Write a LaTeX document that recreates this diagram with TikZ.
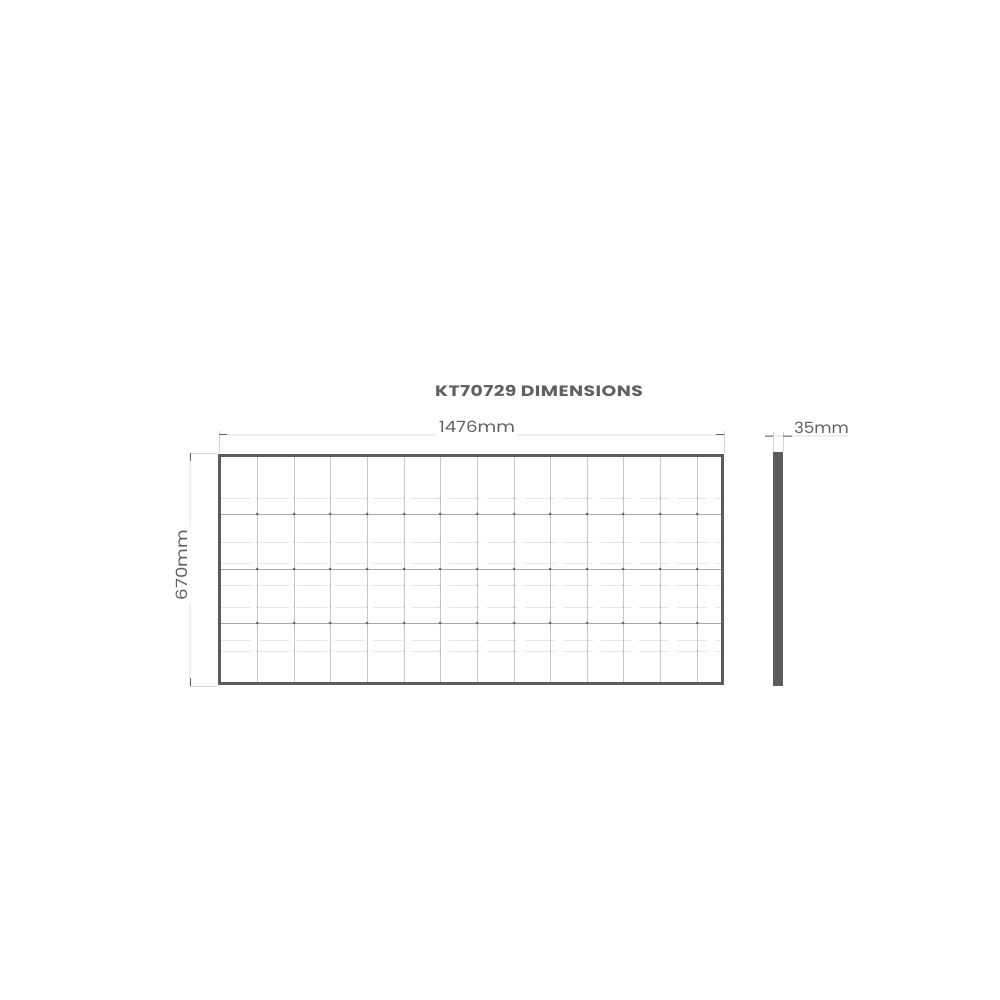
\documentclass[tikz,border=0pt]{standalone}
\usepackage{fontspec}
\setmainfont{Poppins}
\newfontfamily\widefont[FakeStretch=1.17]{Poppins}
\newfontfamily\narrowfont[FakeStretch=1.08]{Poppins}
\newfontfamily\titlefont[FakeStretch=1.25,LetterSpace=3,BoldFont={Poppins Bold}]{Poppins}
\definecolor{frameC}{gray}{0.36}
\definecolor{textC}{gray}{0.38}
\tikzset{
  panelframe/.style={draw=frameC,line width=0.38pt},
  sidebar/.style={fill=frameC,draw=none},
  gridv/.style={draw=black!22,line width=0.07pt},
  strong/.style={draw=black!34,line width=0.08pt},
  faint/.style={draw=black!10,line width=0.07pt,dash pattern=on 3pt off 0.8pt},
  dimline/.style={draw=black!17,line width=0.07pt},
  dimtip/.style={draw=black!60,line width=0.1pt},
  label/.style={text=textC,inner sep=0pt,font=\fontsize{1.55pt}{2pt}\selectfont\widefont},
  shortlabel/.style={text=textC,inner sep=0pt,font=\fontsize{1.55pt}{2pt}\selectfont\narrowfont},
  heading/.style={text=textC,inner sep=0pt,font=\fontsize{1.5pt}{2pt}\selectfont\titlefont\bfseries},
  dot/.style={fill=black!60,draw=none,circle,minimum size=0.3pt,inner sep=0pt},
  smalldot/.style={fill=black!35,draw=none,circle,minimum size=0.15pt,inner sep=0pt}
}
\begin{document}
\begin{tikzpicture}[x=1pt,y=-1pt,scale=0.1]
\useasboundingbox[fill=white] (0,0) rectangle (1000,1000);
% cell grid
\foreach \yy in {498,542,563,585,607,640,651}{\draw[faint] (221,\yy) -- (721,\yy);}
\foreach \yy in {514,569,623}{\draw[strong] (221,\yy) -- (721,\yy);}
\foreach \xx in {257,294,330,367,404,440,477,514,550,587,623,660,697}{
  \draw[gridv] (\xx,456) -- (\xx,683);
  \foreach \yy in {514,569,623}{\node[dot] at (\xx,\yy) {};}
  \foreach \yy in {498,542,585,607,651}{\node[smalldot] at (\xx,\yy) {};}
}
% panel
\draw[panelframe] (219.5,455.5) rectangle (722.5,683.5);
\fill[sidebar] (773,452) rectangle (783,686);
% dimensions
\coordinate (wl) at (219,435); \coordinate (wr) at (724,435);
\coordinate (hb) at (190,453); \coordinate (he) at (190,686);
\coordinate (dl) at (765,436); \coordinate (dr) at (792,436);
\draw[dimline] (219,431) -- (219,453);
\draw[dimline] (724,431) -- (724,453);
\draw[dimline] (190,453) -- (217,453);
\draw[dimline] (190,686) -- (217,686);
\draw[dimline] (773,432) -- (773,452);
\draw[dimline] (783,432) -- (783,452);
\draw[dimline] (wl) -- (436,435);
\draw[dimline] (517,435) -- (wr);
\draw[dimline] (hb) -- (190,527);
\draw[dimline] (190,604) -- (he);
\draw[dimline] (dl) -- (848,436);
\draw[dimtip] (219,435) -- (227,435);
\draw[dimtip] (716,435) -- (724,435);
\draw[dimtip] (190,453) -- (190,461);
\draw[dimtip] (190,678) -- (190,686);
\draw[dimtip] (dl) -- (773,436);
\draw[dimtip] (783,436) -- (dr);
% texts
\node[heading] (title) at (539,390.5) {KT70729 DIMENSIONS};
\node[label] (w) at (477,427) {1476mm};
\node[label,rotate=90] (h) at (182,565) {670mm};
\node[shortlabel] (d) at (821.5,427.5) {35mm};
\end{tikzpicture}
\end{document}
